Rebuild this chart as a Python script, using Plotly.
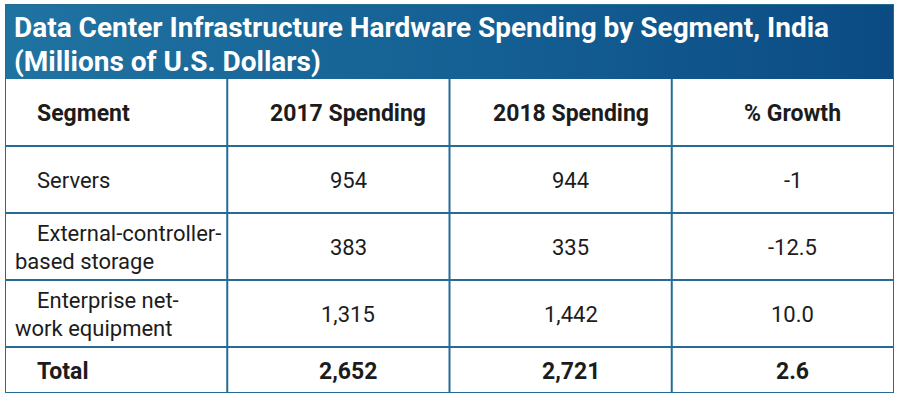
import plotly.graph_objects as go

# ---- data ----
title_lines = ["Data Center Infrastructure Hardware Spending by Segment, India",
               "(Millions of U.S. Dollars)"]
headers = ["Segment", "2017 Spending", "2018 Spending", "% Growth"]
segments = ["Servers", "External-controller-<br>based storage", "Enterprise net-<br>work equipment"]
spend_2017 = ["954", "383", "1,315"]
spend_2018 = ["944", "335", "1,442"]
growth = ["-1", "-12.5", "10.0"]
total_row = ["Total", "2,652", "2,721", "2.6"]

# ---- layout constants ----
W, H = 899, 400
FONT = "Roboto, sans-serif"
LINE = "#246c96"
TXT = "#1c1c1c"
left_px, right_px, top_px, bot_px = 5, 894, 4, 393
title_h = 75
row_h = [67, 67, 67, 67, 46]  # header, 3 rows, total
total_h = title_h + sum(row_h)
px_per_col = (right_px - left_px) / 4.0
indent_first = 30 / px_per_col
indent_next = 8 / px_per_col
center_shift = 10 / px_per_col
line_gap = 28
body_size = 22
head_size = 23
title_size = 28

fig = go.Figure()

# title bar with horizontal gradient
fig.add_trace(go.Scatter(
    x=[0, 4, 4, 0, 0], y=[0, 0, title_h, title_h, 0],
    mode="lines", fill="toself", line=dict(width=0),
    fillgradient=dict(type="horizontal",
                      colorscale=[[0, "#1f73a1"], [0.6, "#135d92"], [1, "#0b4b83"]]),
    hoverinfo="skip", showlegend=False))

annotations = []
for i, t in enumerate(title_lines):
    annotations.append(dict(x=7 / px_per_col, y=23 + i * 34, xref="x", yref="y",
                            text="<b>%s</b>" % t, showarrow=False,
                            xanchor="left", yanchor="middle",
                            font=dict(family=FONT, size=title_size, color="white")))

bounds = [title_h]
for h in row_h:
    bounds.append(bounds[-1] + h)
centers = [(bounds[i] + bounds[i + 1]) / 2 for i in range(len(row_h))]

rows = [headers] + [[segments[i], spend_2017[i], spend_2018[i], growth[i]] for i in range(3)] + [total_row]
bold_rows = {0, len(rows) - 1}

for r, row in enumerate(rows):
    bold = r in bold_rows
    size = head_size if bold else body_size
    for c, val in enumerate(row):
        lines = val.split("<br>")
        n = len(lines)
        for k, ln in enumerate(lines):
            y = centers[r] + (k - (n - 1) / 2) * line_gap + 1
            txt = "<b>%s</b>" % ln if bold else ln
            if c == 0:
                x = c + (indent_first if k == 0 else indent_next)
                xa = "left"
            else:
                x = c + 0.5 + center_shift
                xa = "center"
            annotations.append(dict(x=x, y=y, xref="x", yref="y", text=txt,
                                    showarrow=False, xanchor=xa, yanchor="middle",
                                    font=dict(family=FONT, size=size, color=TXT)))

shapes = []
for b in bounds[1:-1]:
    shapes.append(dict(type="line", xref="x", yref="y", x0=0, x1=4, y0=b, y1=b,
                       line=dict(color=LINE, width=2)))
for c in [1, 2, 3]:
    shapes.append(dict(type="line", xref="x", yref="y", x0=c, x1=c, y0=title_h, y1=total_h,
                       line=dict(color=LINE, width=2)))
shapes.append(dict(type="rect", xref="x", yref="y", x0=0, x1=4, y0=0, y1=total_h,
                   line=dict(color=LINE, width=2)))

fig.update_layout(
    width=W, height=H, margin=dict(l=0, r=0, t=0, b=0),
    paper_bgcolor="white", plot_bgcolor="white",
    xaxis=dict(range=[0, 4], domain=[left_px / W, right_px / W], visible=False, fixedrange=True),
    yaxis=dict(range=[total_h, 0], domain=[1 - bot_px / H, 1 - top_px / H], visible=False, fixedrange=True),
    annotations=annotations, shapes=shapes, showlegend=False,
)

fig.write_html("out.html", config={"displayModeBar": False},
               post_script="document.body.style.margin='0px';document.body.style.overflow='hidden';")
